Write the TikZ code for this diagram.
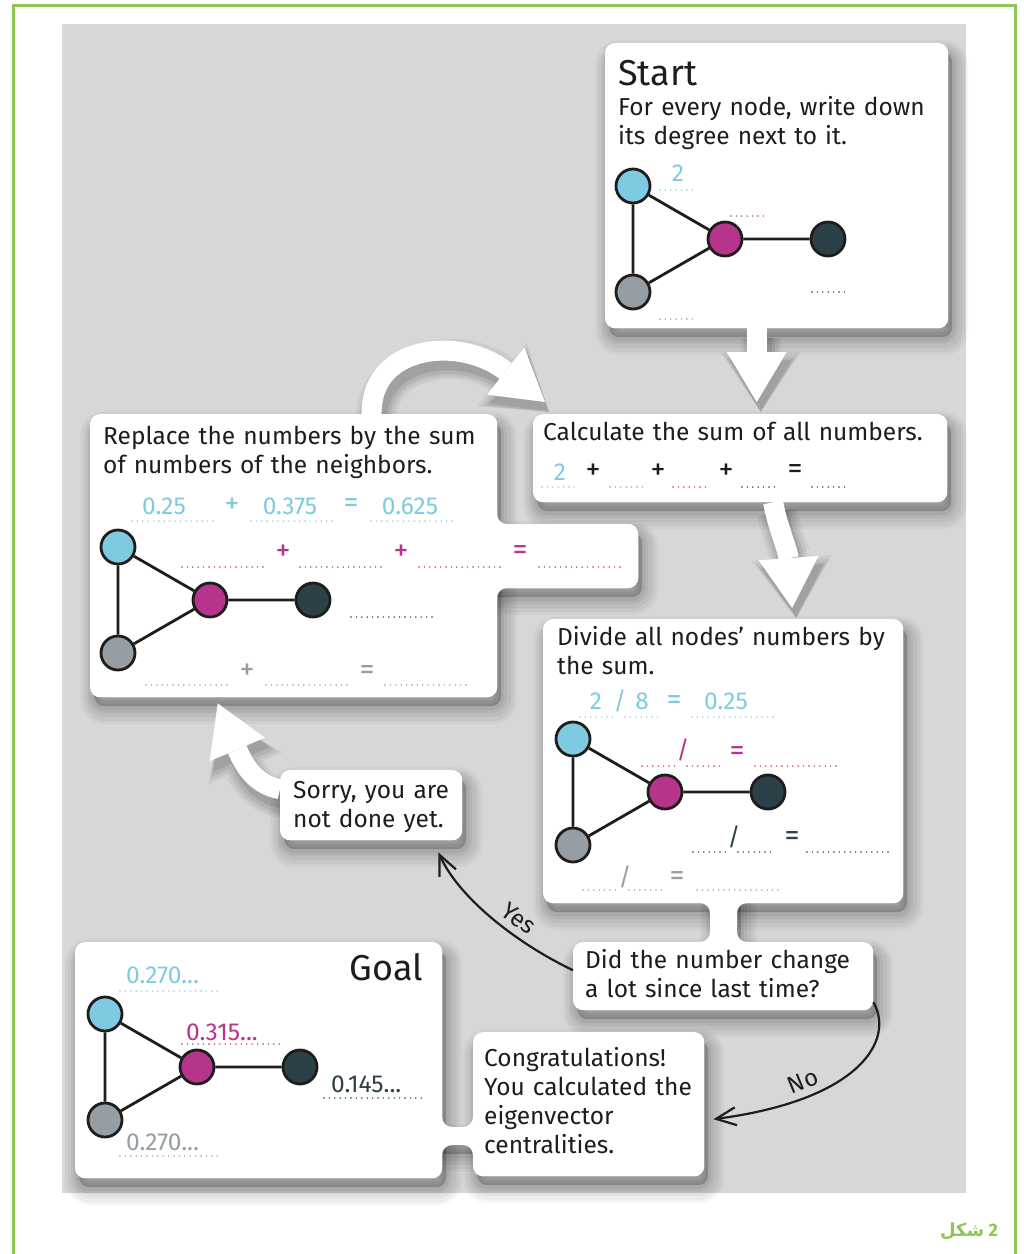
\documentclass[tikz,border=0pt]{standalone}
\usepackage{fontspec}
\setmainfont{Fira Sans}
\newfontfamily\arabicfont[Script=Arabic]{DejaVu Sans}
\TeXXeTstate=1
\usetikzlibrary{arrows.meta}

\definecolor{inkC}{RGB}{29,29,27}
\definecolor{skyC}{RGB}{126,203,225}
\definecolor{magC}{RGB}{182,52,139}
\definecolor{darkC}{RGB}{44,64,71}
\definecolor{greyC}{RGB}{150,158,163}
\definecolor{panelC}{RGB}{214,215,216}
\definecolor{frameC}{RGB}{141,198,83}

% white cards and the tabs between them; #1 = extra options (shadow or none)
\newcommand\cardlayer[1]{%
  \node[card, #1, minimum width=343pt, minimum height=285pt] (startbox) at (605,43) {};
  \node[card, #1, minimum width=414pt, minimum height=88pt] (calcbox) at (533,414) {};
  \fill[white, rounded corners=10pt, #1] (480,524) rectangle (638,588);
  \node[card, #1, minimum width=407pt, minimum height=283pt] (replbox) at (90,414) {};
  \fill[white, #1] (710,895) rectangle (737,950);
  \node[card, #1, minimum width=360pt, minimum height=284pt] (dividebox) at (543,619) {};
  \node[card, #1, minimum width=300pt, minimum height=68pt] (didbox) at (573,942) {};
  \node[card, #1, minimum width=182pt, minimum height=70pt] (sorrybox) at (280,770) {};
  \fill[white, #1] (435,1127) rectangle (480,1145);
  \node[card, #1, minimum width=367pt, minimum height=236pt] (goalbox) at (75,942) {};
  \node[card, #1, minimum width=231pt, minimum height=144pt] (congbox) at (473,1032) {};
}

\begin{document}
\begin{tikzpicture}[x=1pt, y=-1pt,
    card/.style={rectangle, rounded corners=10pt, fill=white, inner sep=0pt, anchor=north west},
    card shadow/.style={
        preaction={draw=black, line width=30pt, opacity=0.035, transform canvas={shift={(5pt,-12pt)}}},
        preaction={draw=black, line width=24pt, opacity=0.04, transform canvas={shift={(5pt,-12pt)}}},
        preaction={draw=black, line width=18pt, opacity=0.045, transform canvas={shift={(5pt,-11pt)}}},
        preaction={draw=black, line width=12pt, opacity=0.05, transform canvas={shift={(4pt,-10pt)}}},
        preaction={draw=black, line width=6pt, opacity=0.055, transform canvas={shift={(4pt,-10pt)}}},
        preaction={fill=black, opacity=0.2, transform canvas={shift={(4pt,-9pt)}}}},
    flow/.style={draw=white, line width=20pt, -{Triangle[length=50pt, width=60pt, line width=0pt]},
        preaction={draw=black, opacity=0.05, line width=40pt, -{Triangle[length=60pt, width=80pt, line width=0pt]}, transform canvas={shift={(4pt,-10pt)}}},
        preaction={draw=black, opacity=0.06, line width=34pt, -{Triangle[length=57pt, width=74pt, line width=0pt]}, transform canvas={shift={(4pt,-10pt)}}},
        preaction={draw=black, opacity=0.07, line width=28pt, -{Triangle[length=54pt, width=68pt, line width=0pt]}, transform canvas={shift={(4pt,-10pt)}}},
        preaction={draw=black, opacity=0.09, line width=22pt, -{Triangle[length=51pt, width=62pt, line width=0pt]}, transform canvas={shift={(4pt,-9pt)}}}},
    reply/.style={draw=inkC, line width=2.2pt, -{Straight Barb[length=20pt, width=18pt]}},
    vertex/.style={circle, draw=inkC, line width=2.8pt, minimum size=34pt, inner sep=0pt},
    link/.style={draw=inkC, line width=2.8pt},
    txt/.style={font=\fontsize{24.5}{29}\selectfont, text=inkC, align=left, text width=420pt, inner sep=0pt, anchor=base west},
    heading/.style={font=\fontsize{36}{40}\selectfont, text=inkC, inner sep=0pt, anchor=base west},
    num/.style={font=\fontsize{24.5}{28}\selectfont, inner sep=0pt, anchor=base},
    op/.style={font=\fontsize{30}{30}\selectfont, inner sep=0pt},
    answer/.style={font=\fontsize{24}{26}\selectfont, text=inkC, inner sep=0pt, sloped},
    blank/.style={line width=1.6pt, line cap=round, dash pattern=on 0pt off 5.4pt}
]
\useasboundingbox (0,0) rectangle (1024,1254);

% Frame and panel
\draw[frameC, line width=3pt] (13,1254) -- (13,5) -- (1015,5) -- (1015,1254);
\fill[panelC] (62,24) rectangle (966,1193);

% Cards, first with their shadows
\cardlayer{card shadow}

% Big white arrows
\draw[flow] ([xshift=-20pt]startbox.south) -- ([xshift=-20pt, yshift=12pt]startbox.south |- calcbox.north);
\draw[flow] ([xshift=78pt]replbox.north) .. controls (370,345) and (460,335) .. ([xshift=12pt, yshift=12pt]calcbox.north west);
\draw[flow] ([xshift=33pt]calcbox.south) .. controls (777,525) and (788,550) .. ([xshift=69pt, yshift=11pt]dividebox.north);
\draw[flow] ([yshift=16pt]sorrybox.west) .. controls (258,785) and (246,770) .. ([xshift=-76pt, yshift=-6pt]replbox.south);

% Cards again, without shadows, plus the rounded joints of the tabs
\cardlayer{}
\fill[white, rounded corners=10pt] (477,500) -- (497,500) -- (497,524) -- (638,524) -- (638,588) -- (497,588) -- (497,612) -- (477,612) -- cycle;
\fill[white, rounded corners=10pt] (690,880) -- (757,880) -- (757,903) -- (737,903) -- (737,942) -- (757,942) -- (757,965) -- (690,965) -- (690,942) -- (710,942) -- (710,903) -- (690,903) -- cycle;
\fill[white, rounded corners=10pt] (422,1107) -- (442,1107) -- (442,1127) -- (473,1127) -- (473,1107) -- (493,1107) -- (493,1165) -- (473,1165) -- (473,1145) -- (442,1145) -- (442,1165) -- (422,1165) -- cycle;

% Texts
\node[heading] (starthead) at (618,85) {Start};
\node[txt] (starttext) at (618,115) {For every node, write down\\its degree next to it.};
\node[txt] (calctext) at (543,440) {Calculate the sum of all numbers.};
\node[txt] (repltext) at (103,444) {Replace the numbers by the sum\\of numbers of the neighbors.};
\node[txt] (dividetext) at (557,645) {Divide all nodes’ numbers by\\the sum.};
\node[txt] (didtext) at (585,968) {Did the number change\\a lot since last time?};
\node[txt] (sorrytext) at (293,798) {Sorry, you are\\not done yet.};
\node[txt] (congtext) at (484,1066) {Congratulations!\\You calculated the\\eigenvector\\centralities.};
\node[heading, anchor=base east] (goalhead) at (423,980) {Goal};

% Graphs
\foreach \g/\gx/\gy in {s/633/186, r/118/547, d/573/739, g/105/1014} {
  \node[vertex, fill=skyC] (\g-sky) at (\gx,\gy) {};
  \node[vertex, fill=magC] (\g-mag) at (\gx+92,\gy+53) {};
  \node[vertex, fill=darkC] (\g-dark) at (\gx+195,\gy+53) {};
  \node[vertex, fill=greyC] (\g-grey) at (\gx,\gy+106) {};
  \draw[link] (\g-sky) -- (\g-mag) -- (\g-dark) (\g-mag) -- (\g-grey) -- (\g-sky);
}

% Start numbers
\node[num, text=skyC] (s-two) at (678,181) {2};
\foreach \a/\b/\y/\c in {660/697/190/skyC, 731/767/216/magC, 812/848/292/darkC, 660/697/319/greyC}
  \draw[blank, draw=\c] (\a,\y) -- (\b,\y);

% Sum row
\node[num, text=skyC] (c-two) at (560,480) {2};
\foreach \t/\x [count=\i] in {+/593, +/658, +/726, =/795}
  \node[op, text=inkC] (c-op\i) at (\x,472) {\t};
\foreach \a/\b/\c in {542/577/skyC, 610/645/greyC, 673/710/magC, 742/777/darkC, 812/848/darkC}
  \draw[blank, draw=\c] (\a,487) -- (\b,487);

% Neighbour sums
\node[num, text=skyC] (r-a) at (164,514) {0.25};
\node[op, text=skyC] (r-plus) at (232,506) {+};
\node[num, text=skyC] (r-b) at (290,514) {0.375};
\node[op, text=skyC] (r-eq) at (351,506) {=};
\node[num, text=skyC] (r-c) at (410,514) {0.625};
\foreach \t/\x [count=\i] in {+/283, +/401, =/520}
  \node[op, text=magC] (r-mop\i) at (\x,553) {\t};
\foreach \t/\x [count=\i] in {+/247, =/367}
  \node[op, text=greyC] (r-gop\i) at (\x,672) {\t};
\foreach \a/\b/\y/\c in {132/215/521/skyC, 251/335/521/skyC, 371/454/521/skyC,
    182/266/567/magC, 300/384/567/magC, 419/503/567/magC, 539/623/567/magC,
    351/435/617/darkC,
    146/230/685/greyC, 266/350/685/greyC, 385/469/685/greyC}
  \draw[blank, draw=\c] (\a,\y) -- (\b,\y);

% Divisions
\node[num, text=skyC] (d-a) at (596,709) {2};
\node[num, anchor=center, text=skyC] (d-sl) at (620,701) {/};
\node[num, text=skyC] (d-b) at (642,709) {8};
\node[op, text=skyC] (d-eq) at (674,702) {=};
\node[num, text=skyC] (d-c) at (726,709) {0.25};
\node[num, anchor=center, text=magC] (d-msl) at (683,750) {/};
\node[op, text=magC] (d-meq) at (737,753) {=};
\node[num, anchor=center, text=darkC] (d-dsl) at (734,837) {/};
\node[op, text=darkC] (d-deq) at (792,838) {=};
\node[num, anchor=center, text=greyC] (d-gsl) at (625,877) {/};
\node[op, text=greyC] (d-geq) at (677,878) {=};
\foreach \a/\b/\y/\c in {580/613/717/skyC, 625/660/717/skyC, 692/777/717/skyC,
    642/677/766/magC, 687/723/766/magC, 755/838/766/magC,
    693/730/852/darkC, 738/772/852/darkC, 807/892/852/darkC,
    583/618/890/greyC, 629/663/890/greyC, 697/780/890/greyC}
  \draw[blank, draw=\c] (\a,\y) -- (\b,\y);

% Final centralities
\node[num, anchor=base west, text=skyC] (g-sky-val) at (126,983) {0.270...};
\node[num, anchor=base west, text=magC] (g-mag-val) at (186,1040) {0.315...};
\node[num, anchor=base west, text=darkC] (g-dark-val) at (331,1092) {0.145...};
\node[num, anchor=base west, text=greyC] (g-grey-val) at (126,1150) {0.270...};
\foreach \a/\b/\y/\c in {120/222/991/skyC, 182/283/1044/magC, 324/425/1098/darkC, 120/222/1156/greyC}
  \draw[blank, draw=\c] (\a,\y) -- (\b,\y);

% Yes / No
\draw[reply] ([yshift=6pt]didbox.west) .. controls (520,945) and (460,900) .. node[answer, above=7pt, pos=0.4] (yes) {Yes} ([xshift=-24pt, yshift=-12pt]sorrybox.south east);
\draw[reply] ([yshift=-26pt]didbox.east) .. controls (895,1040) and (860,1100) .. node[answer, above=6pt, pos=0.73] (no) {No} ([xshift=9pt, yshift=-15pt]congbox.east);

% Figure label
\node[font=\fontsize{18}{20}\selectfont\bfseries, text=frameC, anchor=base east, inner sep=0pt] (figlabel) at (998,1236) {{\arabicfont\beginR شكل\endR}\ 2};

\end{tikzpicture}
\end{document}
